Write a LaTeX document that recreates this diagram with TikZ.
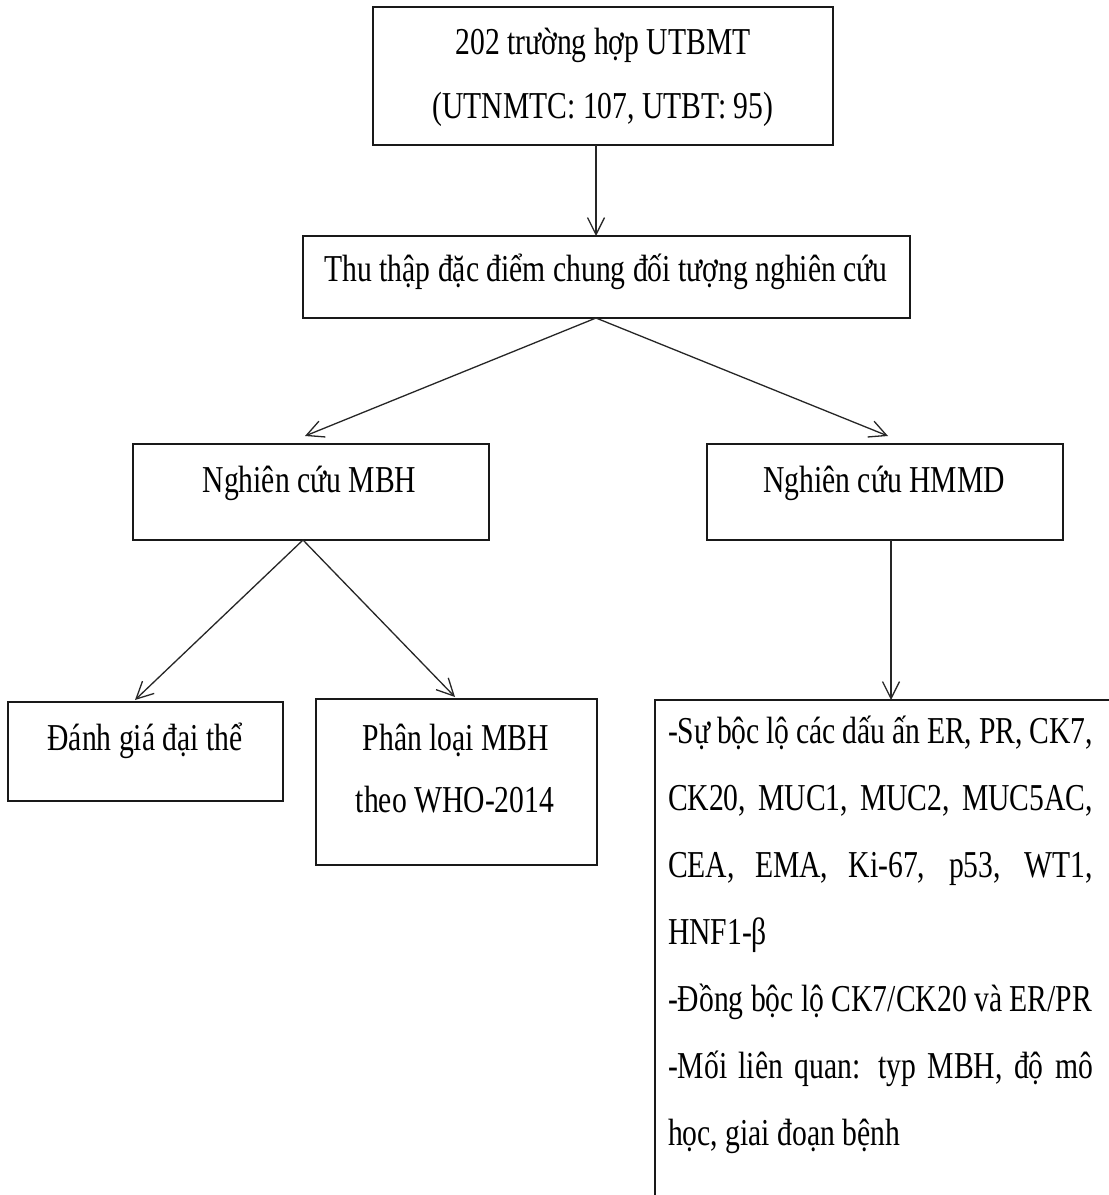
\documentclass[tikz,border=0pt]{standalone}
\usepackage{fontspec}
\setmainfont{Liberation Serif}[FakeStretch=0.78]
\usetikzlibrary{arrows.meta}
\begin{document}
\begin{tikzpicture}[x=1pt,y=-1pt,
  box/.style={draw=black!90, line width=1.8pt, inner sep=0pt, outer sep=0pt},
  txt/.style={inner sep=0pt, outer sep=0pt, anchor=base, font=\fontsize{38}{67}\selectfont},
  arr/.style={draw=black!85, line width=1.3pt, -{Straight Barb[length=17pt,width=17pt]}}]
\useasboundingbox (0,0) rectangle (1109,1195);
\clip (0,0) rectangle (1109,1195);
\fill[white] (0,0) rectangle (1109,1195);
% boxes
\node[box, minimum width=460pt, minimum height=138pt] (b1) at (603,76) {};
\node[box, minimum width=607pt, minimum height=82pt] (b2) at (606.5,277) {};
\node[box, minimum width=356pt, minimum height=96pt] (b3) at (311,492) {};
\node[box, minimum width=356pt, minimum height=96pt] (b4) at (885,492) {};
\node[box, minimum width=275pt, minimum height=99pt] (b5) at (145.5,751.5) {};
\node[box, minimum width=281pt, minimum height=166pt] (b6) at (456.5,782) {};
\node[box, minimum width=545pt, minimum height=552pt] (b7) at (927.5,976) {};
% texts
\node[txt] (t1a) at (603,54) {202 trường hợp UTBMT};
\node[txt] (t1b) at (603,118) {(UTNMTC: 107, UTBT: 95)};
\node[txt] (t2) at (606,281) {Thu thập đặc điểm chung đối tượng nghiên cứu};
\node[txt] (t3) at (309.5,492) {Nghiên cứu MBH};
\node[txt] (t4) at (884,492) {Nghiên cứu HMMD};
\node[txt] (t5) at (145,750) {Đánh giá đại thể};
\node[txt] (t6a) at (456,750) {Phân loại MBH};
\node[txt] (t6b) at (455,812) {theo WHO-2014};
\node[txt, anchor=base west] (t7) at (668,743) {\parbox[t]{425pt}{\raggedright
\makebox[\linewidth][s]{-Sự bộc lộ các dấu ấn ER, PR, CK7,}\\
\makebox[\linewidth][s]{CK20, MUC1, MUC2, MUC5AC,}\\
\makebox[\linewidth][s]{CEA, EMA, Ki-67, p53, WT1,}\\
HNF1-β\\
-Đồng bộc lộ CK7/CK20 và ER/PR\\
\makebox[\linewidth][s]{-Mối liên quan: typ MBH, độ mô}\\
học, giai đoạn bệnh}};
% connectors
\draw[arr] ([xshift=-7pt]b1.south) -- ([xshift=-10.5pt]b2.north);
\draw[arr] ([xshift=-10.5pt]b2.south) -- ([xshift=-6pt,yshift=8pt]b3.north);
\draw[arr] ([xshift=-10.5pt]b2.south) -- ([xshift=3pt,yshift=8pt]b4.north);
\draw[arr] ([xshift=-8pt]b3.south) -- ([xshift=-10.5pt,yshift=2pt]b5.north);
\draw[arr] ([xshift=-8pt]b3.south) -- ([xshift=-1.5pt,yshift=2pt]b6.north);
\draw[arr] ([xshift=6pt]b4.south) -- ([xshift=6pt]b4.south |- b7.north);
\end{tikzpicture}
\end{document}
